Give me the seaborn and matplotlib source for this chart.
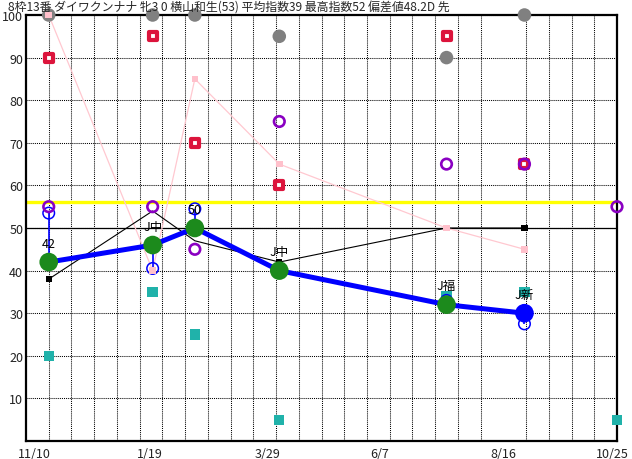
import numpy as np
import pandas as pd
import seaborn as sns
import matplotlib.pyplot as plt

# 日付軸: 11/10 を 0 日とした日数
race_days = [0, 64, 90, 142, 245, 293]
main_index = [42, 46, 50, 40, 32, 30]          # 太い青線
green_vals = [42, 46, 50, 40, 32]              # 緑の丸 (最後は青丸)
blue_open = [53.5, 40.5, 54.5, 40, 33, 27.5]  # 青の白抜き丸
purple_days = [0, 64, 90, 142, 245, 293, 350]
purple_vals = [55, 55, 45, 75, 65, 65, 55]
red_vals = [90, 95, 70, 60, 95, 65]
gray_vals = [100, 100, 100, 95, 90, 100]
teal_days = [0, 64, 90, 142, 245, 293, 350]
teal_vals = [20, 35, 25, 5, 34, 35, 5]
pink_vals = [100, 40, 85, 65, 50, 45]
black_vals = [38, 54, 47, 42, 50, 50]
black_sq_days = [0, 142, 293]
black_sq_vals = [38, 42, 50]
race_labels = ["42", "J中", "50", "J中", "J福", "J新"]
yellow_level = 56

tick_days = [-9, 62, 135, 204, 280, 347]
tick_labels = ["11/10", "1/19", "3/29", "6/7", "8/16", "10/25"]
grid_days = list(range(0, 351, 14))

title = "8枠13番 ダイワクンナナ 牝3 0 横山和生(53) 平均指数39 最高指数52 偏差値48.2D 先"

sns.set_theme(style="white")
plt.rcParams['font.family'] = ['Noto Sans CJK JP', 'DejaVu Sans']

fig = plt.figure(figsize=(6.32, 4.6), dpi=100)
ax = fig.add_axes([26 / 632, 1 - 442 / 460, 591 / 632, 426 / 460])

# グリッド
ax.set_xticks(grid_days, minor=True)
ax.grid(which='minor', axis='x', color='black', lw=0.75, ls=(0, (1, 1)))
ax.set_yticks(range(10, 101, 10))
ax.grid(which='major', axis='y', color='black', lw=0.75, ls=(0, (1, 1)))
ax.axhline(50, color='black', lw=0.9, zorder=1)
ax.axhline(yellow_level, color='#FFFF00', lw=2.4, zorder=1.5)

# 細い線
sns.lineplot(x=race_days, y=pink_vals, ax=ax, color='#FFC8D0', lw=0.9,
             sort=False, zorder=2)
sns.lineplot(x=race_days, y=black_vals, ax=ax, color='black', lw=0.8,
             sort=False, zorder=2)
ax.vlines(race_days, blue_open, main_index, color='blue', lw=1.2, zorder=2)

# マーカー
sns.scatterplot(x=race_days, y=pink_vals, ax=ax, marker='s', s=22,
                color='#FFC0CB', edgecolor='none', zorder=6, clip_on=False)
sns.scatterplot(x=race_days, y=gray_vals, ax=ax, s=95, color='#808080',
                edgecolor='none', zorder=3, clip_on=False)
sns.scatterplot(x=race_days, y=red_vals, ax=ax, marker='s', s=40,
                color='white', edgecolor='#DC143C', linewidth=3.0, zorder=4)
sns.scatterplot(x=teal_days, y=teal_vals, ax=ax, marker='s', s=55,
                color='#20B2AA', edgecolor='none', zorder=4, clip_on=False)
sns.scatterplot(x=black_sq_days, y=black_sq_vals, ax=ax, marker='s', s=20,
                color='black', edgecolor='none', zorder=4)
sns.scatterplot(x=race_days, y=blue_open, ax=ax, s=69, color='none',
                edgecolor='blue', linewidth=1.1, zorder=5)
sns.scatterplot(x=purple_days, y=purple_vals, ax=ax, s=58, color='none',
                edgecolor='#8A00C2', linewidth=1.9, zorder=5, clip_on=False)

sns.lineplot(x=race_days, y=main_index, ax=ax, color='blue', lw=3.6,
             sort=False, zorder=7)
sns.scatterplot(x=race_days[:5], y=green_vals, ax=ax, s=180, color='#1C8A1C',
                edgecolor='none', zorder=8)
sns.scatterplot(x=race_days[5:], y=main_index[5:], ax=ax, s=180, color='blue',
                edgecolor='none', zorder=8)

for d, v, lab in zip(race_days, main_index, race_labels):
    ax.annotate(lab, (d, v), xytext=(0, 13.5), textcoords='offset points',
                ha='center', va='center', fontsize=9, color='black', zorder=9)

ax.set_xlim(-14, 350)
ax.set_ylim(0, 100)
ax.set_xticks(tick_days)
ax.set_xticklabels(tick_labels)
ax.tick_params(axis='both', which='both', length=0, labelsize=9,
               colors='#222222')
ax.tick_params(axis='x', pad=4)
ax.tick_params(axis='y', pad=2)
for sp in ax.spines.values():
    sp.set_color('black')
    sp.set_linewidth(1.6)
    sp.set_visible(True)
ax.set_xlabel("")
ax.set_ylabel("")

fig.text(8 / 632, 1 - 1 / 460, title, fontsize=8.6, ha='left', va='top')

fig.savefig("out.png", dpi=100)
